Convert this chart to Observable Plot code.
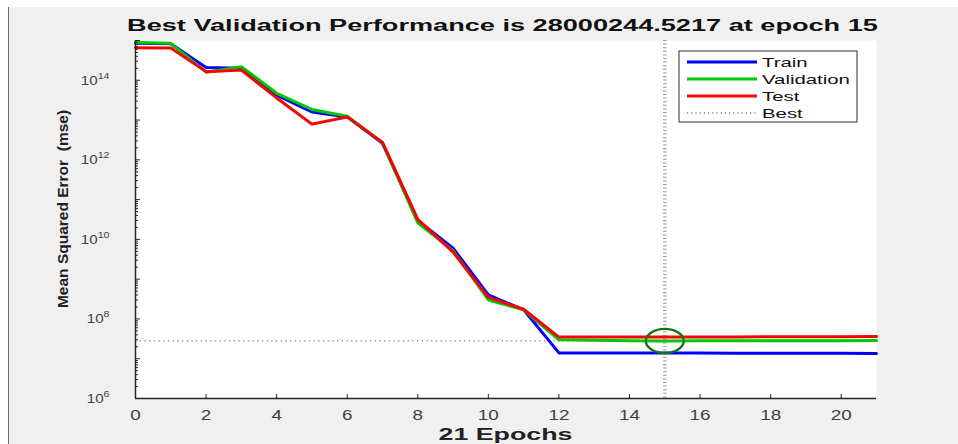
<!DOCTYPE html>
<html><head><meta charset="utf-8">
<script src="https://cdn.jsdelivr.net/npm/d3@7"></script>
<script src="https://cdn.jsdelivr.net/npm/@observablehq/plot@0.6"></script>
<style>
html,body{margin:0;padding:0;background:#fff;}
#wrap{padding:7px 0 0 8px;width:950px;height:437px;overflow:hidden;}
#wrap svg{display:block;background:#f0f0f0;border-left:1px solid #707070;}
</style></head>
<body><div id="wrap"></div>
<script>
// ---- data ----
const epochs = [0,1,2,3,4,5,6,7,8,9,10,11,12,13,14,15,16,17,18,19,20,21];
const train = [8.5e14,8.3e14,2.1e14,2.0e14,4.2e13,1.6e13,1.2e13,2.6e12,3.0e10,6.0e9,4.0e8,1.7e8,1.4e7,1.4e7,1.4e7,1.39e7,1.39e7,1.38e7,1.38e7,1.37e7,1.37e7,1.36e7];
const validation = [8.9e14,8.5e14,1.6e14,2.2e14,4.7e13,1.85e13,1.25e13,2.7e12,2.6e10,5.2e9,3.0e8,1.7e8,3.0e7,2.9e7,2.82e7,28000244.5217,2.81e7,2.82e7,2.83e7,2.84e7,2.85e7,2.86e7];
const test = [6.6e14,6.5e14,1.65e14,1.8e14,3.6e13,7.9e12,1.2e13,2.75e12,3.2e10,4.8e9,3.5e8,1.75e8,3.5e7,3.5e7,3.5e7,3.5e7,3.52e7,3.53e7,3.55e7,3.56e7,3.58e7,3.6e7];
const bestEpoch = 15;
const bestPerf = 28000244.5217;
const xTicks = [0,2,4,6,8,10,12,14,16,18,20];
const yLabelTicks = [1e6,1e8,1e10,1e12,1e14];
const yDecadeTicks = [1e6,1e7,1e8,1e9,1e10,1e11,1e12,1e13,1e14,1e15];
const yMinorTicks = [];
for (let e = 6; e < 15; e++) for (let m = 2; m <= 9; m++) yMinorTicks.push(m * Math.pow(10, e));
const titleText = "Best Validation Performance is 28000244.5217 at epoch 15";
const xLabel = "21 Epochs";
const yLabel = "Mean Squared Error  (mse)";
const seriesNames = ["Train", "Validation", "Test", "Best"];
const seriesColors = ["#0000ff", "#00c800", "#ff0000", "#404040"];

// ---- layout ----
const W = 949, H = 437;
const mL = 126, mR = 82, mT = 33, mB = 46;
const font = "'Liberation Sans', Arial, Helvetica, sans-serif";

const rows = epochs.map((e, i) => ({e, train: train[i], validation: validation[i], test: test[i]}));

const svg = Plot.plot({
  width: W, height: H,
  marginLeft: mL, marginRight: mR, marginTop: mT, marginBottom: mB,
  style: {background: "#f0f0f0", fontFamily: font, overflow: "visible"},
  x: {domain: [0, 21]},
  y: {type: "log", domain: [1e6, 1e15]},
  marks: [
    Plot.frame({fill: "white", stroke: "none"}),
    Plot.ruleX([bestEpoch], {stroke: "#8f9f8f", strokeWidth: 3.5, strokeDasharray: "1,2.6"}),
    Plot.ruleY([bestPerf], {stroke: "#6f8f6f", strokeWidth: 1.3, strokeDasharray: "1.3,3.4"}),
    Plot.line(rows, {x: "e", y: "train", stroke: seriesColors[0], strokeWidth: 3}),
    Plot.line(rows, {x: "e", y: "validation", stroke: seriesColors[1], strokeWidth: 3}),
    Plot.line(rows, {x: "e", y: "test", stroke: seriesColors[2], strokeWidth: 3}),
    Plot.dot([bestEpoch], {x: d => d, y: () => bestPerf, r: 12, stroke: "#137313", strokeWidth: 2.3, fill: "none"}),
    Plot.ruleX([0], {stroke: "#262626", strokeWidth: 1.5}),
    Plot.ruleY([1e6], {stroke: "#262626", strokeWidth: 1.5}),
    Plot.axisX({ticks: xTicks, tickSize: -4, tickFormat: () => "", label: null, stroke: "#262626"}),
    Plot.axisX({ticks: xTicks, tickSize: 0, tickPadding: 12, label: null, fontSize: 14, fill: "#404040"}),
    Plot.axisY({ticks: yMinorTicks, tickSize: -3, tickFormat: () => "", label: null, stroke: "#262626"}),
    Plot.axisY({ticks: yDecadeTicks, tickSize: -5, tickFormat: () => "", label: null, stroke: "#262626"}),
    Plot.axisY({ticks: yLabelTicks, tickSize: 0, tickPadding: 26, label: null, fontSize: 13, fill: "#404040",
                tickFormat: d => "10^" + Math.round(Math.log10(d))})
  ]
});
document.getElementById("wrap").appendChild(svg);

const S = d3.select(svg);

function stretch(el, sx) {
  const t = el.getAttribute("transform");
  if (t) { el.setAttribute("transform", t + ` scale(${sx},1)`); }
  else {
    const x = +(el.getAttribute("x") || 0), y = +(el.getAttribute("y") || 0);
    el.removeAttribute("x"); el.removeAttribute("y");
    el.setAttribute("transform", `translate(${x},${y}) scale(${sx},1)`);
  }
}

// x tick labels stretched like the reference
S.selectAll('g[aria-label="x-axis tick label"] text').each(function() {
  if (this.textContent.trim() !== "") { this.setAttribute("font-size", 14); stretch(this, 1.35); }
});

// y tick labels: 10 with superscript exponent
S.selectAll('g[aria-label="y-axis tick label"] text').each(function() {
  const s = this.textContent;
  if (s.indexOf("^") < 0) return;
  const [base, exp] = s.split("^");
  const t = d3.select(this);
  t.text(null).attr("font-size", 13.5);
  t.append("tspan").text(base);
  t.append("tspan").attr("font-size", 9.5).attr("dy", -6).text(exp);
  stretch(this, 1.12);
});

// best marker drawn as the stretched circle of the reference
S.selectAll('g[aria-label="dot"] circle').each(function() {
  let cx = this.getAttribute("cx"), cy = this.getAttribute("cy");
  let pre = "";
  if (cx == null) { pre = this.getAttribute("transform") || ""; cx = 0; cy = 0; }
  this.setAttribute("cx", 0); this.setAttribute("cy", 0);
  this.setAttribute("vector-effect", "non-scaling-stroke");
  this.setAttribute("transform", `${pre} translate(${cx},${cy}) scale(1.58,1)`);
});

function fitText(sel, target) {
  const len = sel.node().getComputedTextLength();
  return len > 0 ? target / len : 1;
}

const cx = mL + (W - mL - mR) / 2;

// title
const title = S.append("text").attr("text-anchor", "middle").attr("font-weight", "bold")
  .attr("font-size", 16).attr("fill", "#111").attr("font-family", font).text(titleText);
title.attr("transform", `translate(${cx - 3},24) scale(${fitText(title, 751)},1)`);

// x label
const xl = S.append("text").attr("text-anchor", "middle").attr("font-weight", "bold")
  .attr("font-size", 16).attr("fill", "#222").attr("font-family", font).text(xLabel);
xl.attr("transform", `translate(${cx},433) scale(${fitText(xl, 134)},1)`);

// y label
S.append("text").attr("text-anchor", "middle").attr("font-weight", "bold")
  .attr("font-size", 15.5).attr("fill", "#222").attr("font-family", font)
  .attr("transform", `translate(59,202) rotate(-90)`).text(yLabel);

// legend
const lgX = W - mR - 19 - 178, lgY = mT + 11;
const lg = S.append("g").attr("transform", `translate(${lgX},${lgY})`);
lg.append("rect").attr("width", 178).attr("height", 71).attr("fill", "white").attr("stroke", "#303030").attr("stroke-width", 1);
const tmp = lg.append("text").attr("font-size", 13).attr("font-family", font).attr("text-anchor", "start").text(seriesNames[1]);
const lsx = fitText(tmp, 88); tmp.remove();
seriesNames.forEach((name, i) => {
  const y = 11 + i * 17;
  const ln = lg.append("line").attr("x1", 8).attr("x2", 78).attr("y1", y).attr("y2", y)
    .attr("stroke", seriesColors[i]).attr("stroke-width", i < 3 ? 3 : 1.2);
  if (i === 3) ln.attr("stroke-dasharray", "1.2,3");
  lg.append("text").attr("font-size", 13).attr("fill", "#111").attr("font-family", font)
    .attr("text-anchor", "start").attr("dy", "0.35em")
    .attr("transform", `translate(83,${y}) scale(${lsx},1)`).text(name);
});
</script>
</body></html>
